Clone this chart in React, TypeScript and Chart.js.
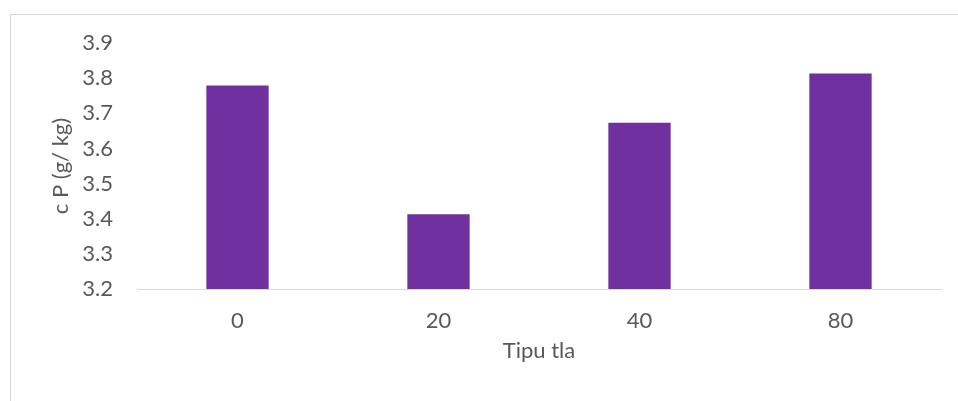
import React, { useEffect, useRef } from "react";
import { Chart, registerables } from "chart.js";

Chart.register(...registerables);

const categories = ["0", "20", "40", "80"];
const values = [3.779, 3.413, 3.673, 3.813];
const yMin = 3.2;
const yMax = 3.9;
const yStep = 0.1;
const xTitle = "Tipu tla";
const yTitle = "c P (g/ kg)";

const FONT = "Lato, 'Open Sans', sans-serif";
const TEXT = "#595959";

export default function App() {
  const ref = useRef<HTMLCanvasElement | null>(null);

  useEffect(() => {
    const canvas = ref.current;
    if (!canvas) return;
    const chart = new Chart(canvas, {
      type: "bar",
      data: {
        labels: categories,
        datasets: [
          {
            data: values,
            backgroundColor: "#7030A0",
            borderWidth: 0,
            barPercentage: 0.31,
            categoryPercentage: 1,
          },
        ],
      },
      options: {
        responsive: false,
        animation: false,
        layout: { padding: { top: 43, right: 17, left: 0, bottom: 0 } },
        plugins: { legend: { display: false }, tooltip: { enabled: false } },
        scales: {
          x: {
            grid: { color: "transparent", drawTicks: false },
            border: { display: true, color: "#d9d9d9", width: 1 },
            ticks: { color: TEXT, font: { family: FONT, size: 22 }, padding: 19 },
            title: {
              display: true,
              text: xTitle,
              color: TEXT,
              font: { family: FONT, size: 22 },
              padding: { top: 0, bottom: 37 },
            },
            afterFit: (s: any) => {
              s.height = 112;
            },
          },
          y: {
            min: yMin,
            max: yMax,
            grid: { display: false, drawTicks: false },
            border: { display: false },
            ticks: {
              stepSize: yStep,
              color: TEXT,
              font: { family: FONT, size: 22 },
              padding: 24,
              callback: (v: any) => Number(v).toFixed(1),
            },
            title: {
              display: true,
              text: yTitle,
              color: TEXT,
              font: { family: FONT, size: 22 },
              padding: { top: 48, bottom: 0 },
            },
            afterFit: (s: any) => {
              s.width = 137;
            },
          },
        },
      },
    });
    return () => chart.destroy();
  }, []);

  return (
    <div
      style={{
        position: "fixed",
        left: 0,
        top: 0,
        width: 958,
        height: 401,
        overflow: "hidden",
        background: "#ffffff",
      }}
    >
      <div
        style={{
          position: "absolute",
          left: 10,
          top: 14,
          width: 1100,
          height: 600,
          borderLeft: "1px solid #d9d9d9",
          borderTop: "1px solid #d9d9d9",
        }}
      />
      <canvas
        ref={ref}
        width={958}
        height={401}
        style={{ position: "absolute", left: 0, top: 0, width: 958, height: 401 }}
      />
    </div>
  );
}
